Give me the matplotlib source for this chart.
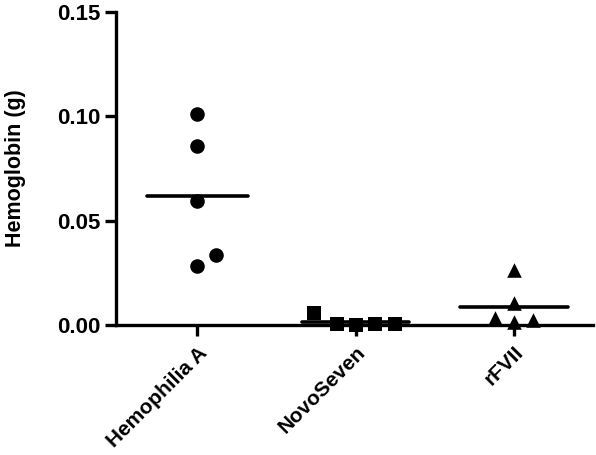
import numpy as np
import matplotlib
matplotlib.use("Agg")
import matplotlib.pyplot as plt

# values
groups = ["Hemophilia A", "NovoSeven", "rFVII"]
hemo_a = [0.1011, 0.0858, 0.0594, 0.0283, 0.0335]
hemo_a_dx = [0.0, 0.0, 0.0, 0.0, 0.12]
novo = [0.0058, 0.0003, 0.0002, 0.0003, 0.0003]
novo_dx = [-0.26, -0.12, 0.0, 0.12, 0.25]
rfvii = [0.0263, 0.0105, 0.0034, 0.0014, 0.0024]
rfvii_dx = [0.0, 0.0, -0.12, 0.0, 0.12]
mean_halfwidth = [0.32, 0.34, 0.34]

plt.rcParams['font.family'] = ['Liberation Sans', 'DejaVu Sans']
plt.rcParams['font.weight'] = 'bold'

fig = plt.figure(figsize=(5.96, 4.55), dpi=100)
ax = fig.add_axes([0.1946, 0.2857, 0.8004, 0.6879])

series = [(hemo_a, hemo_a_dx, 'o'), (novo, novo_dx, 's'), (rfvii, rfvii_dx, '^')]
for i, (vals, dx, mk) in enumerate(series):
    xs = i + np.array(dx)
    ax.scatter(xs, vals, marker=mk, s=110, color='black', zorder=3,
               clip_on=False, linewidths=0)
    m = np.mean(vals)
    ax.plot([i - mean_halfwidth[i], i + mean_halfwidth[i]], [m, m],
            color='black', lw=2.6, solid_capstyle='round', zorder=2)

ax.set_xlim(-0.513, 2.5)
ax.set_ylim(0, 0.15)
ax.set_yticks([0, 0.05, 0.10, 0.15])
ax.set_yticklabels(["0.00", "0.05", "0.10", "0.15"])
ax.set_xticks(range(len(groups)))
ax.set_xticklabels(groups, rotation=45, ha='right', rotation_mode='anchor')
ax.set_ylabel("Hemoglobin (g)", fontsize=15.5, fontweight='bold', labelpad=22)

for s in ['top', 'right']:
    ax.spines[s].set_visible(False)
for s in ['left', 'bottom']:
    ax.spines[s].set_linewidth(2.4)
ax.tick_params(axis='both', width=2.4, length=8, direction='out')
ax.tick_params(axis='y', labelsize=16)
ax.tick_params(axis='x', labelsize=15, pad=5)

fig.savefig("out.png", dpi=100)
